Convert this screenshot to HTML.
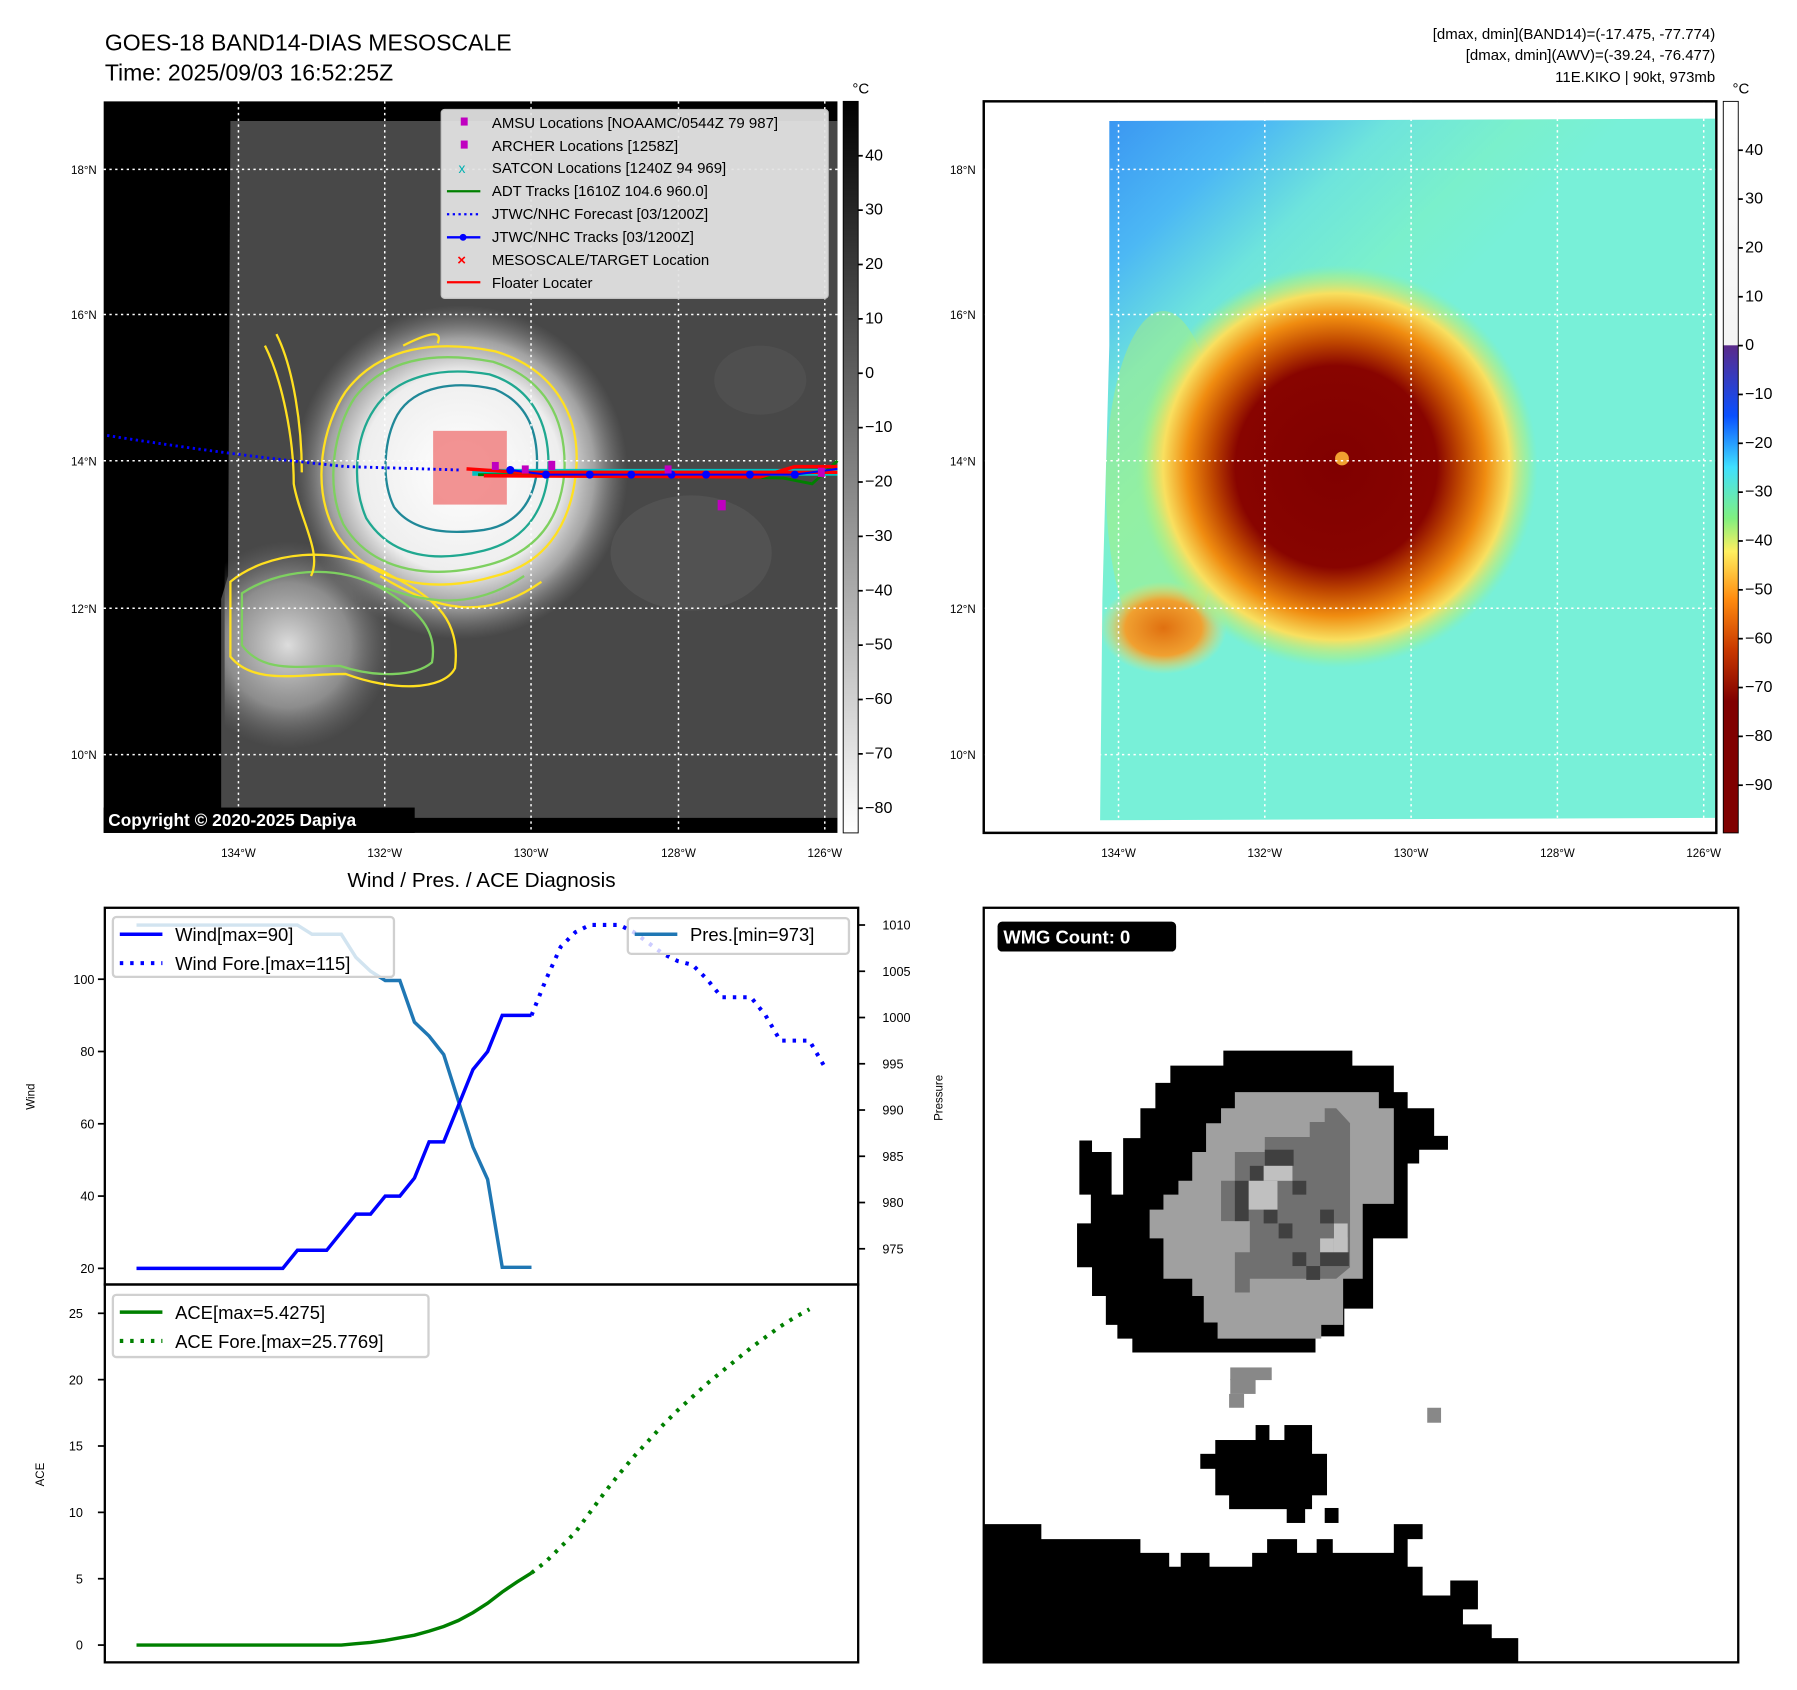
<!DOCTYPE html>
<html><head><meta charset="utf-8"><style>
html,body{margin:0;padding:0;background:#fff;}
svg{display:block;font-family:"Liberation Sans","DejaVu Sans",sans-serif;}
</style></head><body>
<svg id="fig" width="1797" height="1690" viewBox="0 0 1560 1467" preserveAspectRatio="none" xmlns="http://www.w3.org/2000/svg">
<defs>
<linearGradient id="cb1" x1="0" y1="0" x2="0" y2="1"><stop offset="0" stop-color="#000"/><stop offset="1" stop-color="#fff"/></linearGradient>
<linearGradient id="cb2" x1="0" y1="88" x2="0" y2="723" gradientUnits="userSpaceOnUse">
<stop offset="0" stop-color="#ffffff"/><stop offset="0.333" stop-color="#f4f4f4"/><stop offset="0.334" stop-color="#5a2a8a"/>
<stop offset="0.43" stop-color="#0a50ff"/><stop offset="0.5" stop-color="#40e0ff"/><stop offset="0.57" stop-color="#80f080"/>
<stop offset="0.615" stop-color="#fff060"/><stop offset="0.68" stop-color="#ff8c10"/><stop offset="0.75" stop-color="#c83800"/>
<stop offset="0.82" stop-color="#800000"/><stop offset="1" stop-color="#800000"/></linearGradient>
<radialGradient id="storm1" cx="400" cy="410" r="145" gradientUnits="userSpaceOnUse">
<stop offset="0" stop-color="#fff"/><stop offset="0.6" stop-color="#eee"/><stop offset="0.8" stop-color="#b8b8b8" stop-opacity="0.8"/><stop offset="1" stop-color="#888" stop-opacity="0"/></radialGradient>
<radialGradient id="blobL" cx="250" cy="560" r="90" gradientUnits="userSpaceOnUse">
<stop offset="0" stop-color="#ddd"/><stop offset="0.6" stop-color="#aaa" stop-opacity="0.7"/><stop offset="1" stop-color="#777" stop-opacity="0"/></radialGradient>
<linearGradient id="skyR" x1="960" y1="105" x2="1180" y2="330" gradientUnits="userSpaceOnUse">
<stop offset="0" stop-color="#3a96f2"/><stop offset="0.3" stop-color="#4cb8f4"/><stop offset="0.55" stop-color="#6ee4dc"/><stop offset="0.8" stop-color="#7af0cc"/><stop offset="1" stop-color="#78f0d8"/></linearGradient>
<radialGradient id="stormR" cx="1160" cy="405" r="175" gradientUnits="userSpaceOnUse">
<stop offset="0" stop-color="#800000"/><stop offset="0.5" stop-color="#880400"/><stop offset="0.62" stop-color="#c04800"/><stop offset="0.74" stop-color="#f08c10"/><stop offset="0.86" stop-color="#f8e060"/><stop offset="0.95" stop-color="#b0f080" stop-opacity="0.5"/><stop offset="1" stop-color="#90f0a0" stop-opacity="0"/></radialGradient>
<radialGradient id="bandR" cx="0.5" cy="0.5" r="0.5">
<stop offset="0" stop-color="#e07010"/><stop offset="0.6" stop-color="#f0a030"/><stop offset="1" stop-color="#f8e060" stop-opacity="0"/></radialGradient>
</defs>

<text x="91" y="44" font-size="20">GOES-18 BAND14-DIAS MESOSCALE</text>
<text x="91" y="70" font-size="20">Time: 2025/09/03 16:52:25Z</text>
<g font-size="13" text-anchor="end">
<text x="1489" y="34">[dmax, dmin](BAND14)=(-17.475, -77.774)</text>
<text x="1489" y="52">[dmax, dmin](AWV)=(-39.24, -76.477)</text>
<text x="1489" y="71">11E.KIKO | 90kt, 973mb</text>
</g>

<g>
<rect x="90" y="88" width="637" height="635" fill="#000"/>
<polygon points="200,105 727,105 727,710 192,710 192,520 198,500" fill="#484848"/>
<ellipse cx="600" cy="480" rx="70" ry="50" fill="#5c5c5c" opacity="0.5"/>
<ellipse cx="660" cy="330" rx="40" ry="30" fill="#555" opacity="0.5"/>
<rect x="195" y="260" width="320" height="450" fill="url(#blobL)"/>
<circle cx="400" cy="410" r="145" fill="url(#storm1)"/>
<g fill="none" stroke-width="2">
<path d="M300,340 C330,300 380,295 430,305 C480,320 505,360 500,410 C495,460 470,490 430,500 C380,515 320,510 290,460 C270,420 280,370 300,340Z" stroke="#ffe020"/>
<path d="M308,345 C335,310 380,305 428,314 C472,328 492,362 490,410 C486,455 462,480 425,490 C380,502 325,500 298,455 C282,420 290,372 308,345Z" stroke="#7ed060"/>
<path d="M325,355 C345,325 385,318 425,325 C460,336 478,365 476,410 C472,448 452,470 420,478 C380,488 340,485 318,450 C305,420 308,380 325,355Z" stroke="#20a890"/>
<path d="M345,360 C360,335 395,330 430,338 C458,350 468,375 466,410 C462,440 445,456 420,460 C390,464 358,462 342,440 C330,415 334,380 345,360Z" stroke="#208898"/>
<path d="M200,505 C230,480 290,470 340,500 C380,520 400,540 395,580 C385,600 340,600 300,585 C260,585 220,595 200,570Z" stroke="#ffe020"/>
<path d="M210,515 C240,495 290,488 330,510 C365,530 380,548 375,575 C360,588 325,588 295,578 C260,578 228,585 210,560Z" stroke="#7ed060"/>
<path d="M230,300 C245,330 255,380 255,420 C260,450 280,480 270,500 M240,290 C255,320 262,370 262,410" stroke="#ffe020"/>
<path d="M330,500 C380,530 420,540 470,505" stroke="#ffe020"/>
<path d="M320,505 C370,525 410,530 455,500" stroke="#7ed060"/>
<path d="M350,300 C370,290 385,285 380,298" stroke="#ffe020"/>
</g>
<g stroke="#fff" stroke-width="1.3" stroke-dasharray="2,3">
<line x1="207" y1="88" x2="207" y2="723"/><line x1="334" y1="88" x2="334" y2="723"/><line x1="461" y1="88" x2="461" y2="723"/><line x1="589" y1="88" x2="589" y2="723"/><line x1="716" y1="88" x2="716" y2="723"/>
<line x1="90" y1="147" x2="727" y2="147"/><line x1="90" y1="273" x2="727" y2="273"/><line x1="90" y1="400" x2="727" y2="400"/><line x1="90" y1="528" x2="727" y2="528"/><line x1="90" y1="655" x2="727" y2="655"/>
</g>
<rect x="376" y="374" width="64" height="64" fill="#f08080" opacity="0.85"/>
<path d="M93,378 Q200,395 300,405 L400,408" stroke="#0000ff" stroke-width="2.5" fill="none" stroke-dasharray="2,3"/>
<g>
<path d="M410,410 L727,410" stroke="#00c0c0" stroke-width="6"/>
<path d="M415,412 L600,413 L680,415 L705,420 L727,400" stroke="#008000" stroke-width="2.5" fill="none"/>
<path d="M405,407 L450,410 L727,410 M420,413 L660,414 L690,405 L727,405" stroke="#ff0000" stroke-width="3" fill="none"/>
<path d="M443,408 L474,412 L512,412 L548,412 L583,412 L613,412 L651,412 L690,412 L727,407" stroke="#0000ff" stroke-width="1.8" fill="none"/>
<g fill="#0000ff"><circle cx="443" cy="408" r="3.5"/><circle cx="474" cy="412" r="3.5"/><circle cx="512" cy="412" r="3.5"/><circle cx="548" cy="412" r="3.5"/><circle cx="583" cy="412" r="3.5"/><circle cx="613" cy="412" r="3.5"/><circle cx="651" cy="412" r="3.5"/><circle cx="690" cy="412" r="3.5"/></g>
<g fill="#c000c0"><rect x="427" y="401" width="6" height="7"/><rect x="453" y="404" width="6" height="7"/><rect x="476" y="400" width="6" height="8"/><rect x="577" y="404" width="6" height="7"/><rect x="623" y="434" width="7" height="9"/><rect x="710" y="406" width="6" height="8"/></g>
</g>
<rect x="90" y="701" width="270" height="22" fill="#000"/>
<text x="94" y="717" font-size="15" font-weight="bold" fill="#fff">Copyright © 2020-2025 Dapiya</text>
</g>
<g>
<rect x="383" y="95" width="336" height="164" rx="3" fill="#e4e4e4" opacity="0.93" stroke="#ccc"/>
<g font-size="13">
<rect x="400" y="102" width="6" height="7" fill="#c000c0"/><text x="427" y="111">AMSU Locations [NOAAMC/0544Z 79 987]</text>
<rect x="400" y="122" width="6" height="7" fill="#c000c0"/><text x="427" y="131">ARCHER Locations [1258Z]</text>
<text x="398" y="150" fill="#00b0b0" font-size="12">x</text><text x="427" y="150">SATCON Locations [1240Z 94 969]</text>
<line x1="388" y1="166" x2="417" y2="166" stroke="#008000" stroke-width="2"/><text x="427" y="170">ADT Tracks [1610Z 104.6 960.0]</text>
<line x1="388" y1="186" x2="417" y2="186" stroke="#0000ff" stroke-width="2" stroke-dasharray="2,3"/><text x="427" y="190">JTWC/NHC Forecast [03/1200Z]</text>
<line x1="388" y1="206" x2="417" y2="206" stroke="#0000ff" stroke-width="2"/><circle cx="402" cy="206" r="3" fill="#0000ff"/><text x="427" y="210">JTWC/NHC Tracks [03/1200Z]</text>
<text x="397" y="230" fill="#ff0000" font-weight="bold">×</text><text x="427" y="230">MESOSCALE/TARGET Location</text>
<line x1="388" y1="245" x2="417" y2="245" stroke="#ff0000" stroke-width="2"/><text x="427" y="250">Floater Locater</text>
</g></g>
<g>
<rect x="732" y="88" width="13" height="635" fill="url(#cb1)" stroke="#000" stroke-width="0.8"/>
<text x="740" y="81" font-size="13">°C</text>
<g font-size="14" id="cb1ticks"></g>
</g>
<g font-size="10" text-anchor="end">
<text x="84" y="151">18°N</text><text x="84" y="277">16°N</text><text x="84" y="404">14°N</text><text x="84" y="532">12°N</text><text x="84" y="659">10°N</text>
</g>
<g font-size="10" text-anchor="middle">
<text x="207" y="744">134°W</text><text x="334" y="744">132°W</text><text x="461" y="744">130°W</text><text x="589" y="744">128°W</text><text x="716" y="744">126°W</text>
</g>

<g>
<rect x="854" y="88" width="636" height="635" fill="#fff" stroke="#000" stroke-width="2"/>
<polygon points="963,105 1489,103 1489,710 955,712 957,520 963,300" fill="url(#skyR)"/>
<ellipse cx="1010" cy="420" rx="50" ry="150" fill="#b0f070" opacity="0.45"/>
<ellipse cx="1010" cy="545" rx="55" ry="40" fill="url(#bandR)"/>
<ellipse cx="1120" cy="500" rx="60" ry="30" fill="url(#bandR)"/>
<ellipse cx="1035" cy="400" rx="40" ry="70" fill="url(#bandR)" opacity="0.7"/>
<circle cx="1160" cy="405" r="175" fill="url(#stormR)"/>
<circle cx="1165" cy="398" r="6" fill="#f0a030"/>
<g stroke="#fff" stroke-width="1.3" stroke-dasharray="2,3">
<line x1="971" y1="88" x2="971" y2="723"/><line x1="1098" y1="88" x2="1098" y2="723"/><line x1="1225" y1="88" x2="1225" y2="723"/><line x1="1352" y1="88" x2="1352" y2="723"/><line x1="1479" y1="88" x2="1479" y2="723"/>
<line x1="854" y1="147" x2="1490" y2="147"/><line x1="854" y1="273" x2="1490" y2="273"/><line x1="854" y1="400" x2="1490" y2="400"/><line x1="854" y1="528" x2="1490" y2="528"/><line x1="854" y1="655" x2="1490" y2="655"/>
</g>
<rect x="854" y="88" width="636" height="635" fill="none" stroke="#000" stroke-width="2"/>
</g>
<g font-size="10" text-anchor="end">
<text x="847" y="151">18°N</text><text x="847" y="277">16°N</text><text x="847" y="404">14°N</text><text x="847" y="532">12°N</text><text x="847" y="659">10°N</text>
</g>
<g font-size="10" text-anchor="middle">
<text x="971" y="744">134°W</text><text x="1098" y="744">132°W</text><text x="1225" y="744">130°W</text><text x="1352" y="744">128°W</text><text x="1479" y="744">126°W</text>
</g>
<g>
<rect x="1496" y="88" width="13" height="635" fill="url(#cb2)" stroke="#000" stroke-width="0.8"/>
<text x="1504" y="81" font-size="13">°C</text>
<g font-size="14" id="cb2ticks"></g>
</g>

<text x="418" y="770" font-size="18" text-anchor="middle">Wind / Pres. / ACE Diagnosis</text>
<rect x="91" y="788" width="654" height="327" fill="none" stroke="#000" stroke-width="2"/>
<rect x="91" y="1115" width="654" height="328" fill="none" stroke="#000" stroke-width="2"/>
<g id="plots"></g>
<text transform="translate(30,952) rotate(-90)" font-size="10" text-anchor="middle">Wind</text>
<text transform="translate(818,953) rotate(-90)" font-size="10" text-anchor="middle">Pressure</text>
<text transform="translate(38,1280) rotate(-90)" font-size="10" text-anchor="middle">ACE</text>
<g>
<rect x="98" y="796" width="244" height="52" rx="3" fill="#fff" fill-opacity="0.8" stroke="#d0d0d0" stroke-width="2"/>
<line x1="104" y1="811" x2="141" y2="811" stroke="#0000ff" stroke-width="3"/><text x="152" y="817" font-size="16">Wind[max=90]</text>
<line x1="104" y1="836" x2="141" y2="836" stroke="#0000ff" stroke-width="3.5" stroke-dasharray="3,6"/><text x="152" y="842" font-size="16">Wind Fore.[max=115]</text>
</g>
<g>
<rect x="545" y="797" width="192" height="31" rx="3" fill="#fff" fill-opacity="0.8" stroke="#d0d0d0" stroke-width="2"/>
<line x1="551" y1="811" x2="588" y2="811" stroke="#1f77b4" stroke-width="3"/><text x="599" y="817" font-size="16">Pres.[min=973]</text>
</g>
<g>
<rect x="98" y="1124" width="274" height="54" rx="3" fill="#fff" fill-opacity="0.8" stroke="#d0d0d0" stroke-width="2"/>
<line x1="104" y1="1139" x2="141" y2="1139" stroke="#008000" stroke-width="3"/><text x="152" y="1145" font-size="16">ACE[max=5.4275]</text>
<line x1="104" y1="1164" x2="141" y2="1164" stroke="#008000" stroke-width="3.5" stroke-dasharray="3,6"/><text x="152" y="1170" font-size="16">ACE Fore.[max=25.7769]</text>
</g>

<g>
<rect x="854" y="788" width="655" height="655" fill="#fff"/>
<polygon fill="#000" points="1088,912 1174,912 1174,925 1210,925 1210,948 1222,948 1222,962 1245,962 1245,986 1257,986 1257,998 1232,998 1232,1010 1222,1010 1222,1075 1192,1075 1192,1136 1167,1136 1167,1160 1142,1160 1142,1174 983,1174 983,1162 970,1162 970,1150 960,1150 960,1125 948,1125 948,1100 935,1100 935,1062 947,1062 947,1037 937,1037 937,990 948,990 948,1000 965,1000 965,1037 975,1037 975,988 990,988 990,962 1003,962 1003,940 1016,940 1016,925 1062,925 1062,912"/>
<polygon fill="#a0a0a0" points="1072,948 1197,948 1197,962 1210,962 1210,1045 1183,1045 1183,1110 1166,1110 1166,1150 1147,1150 1147,1162 1057,1162 1057,1148 1045,1148 1045,1125 1035,1125 1035,1110 1010,1110 1010,1075 998,1075 998,1050 1010,1050 1010,1037 1023,1037 1023,1025 1035,1025 1035,1000 1047,1000 1047,975 1060,975 1060,962 1072,962"/>
<polygon fill="#707070" points="1098,987 1137,987 1137,974 1150,974 1150,962 1160,962 1172,975 1172,1100 1160,1110 1085,1110 1085,1122 1072,1122 1072,1087 1085,1087 1085,1060 1060,1060 1060,1025 1072,1025 1072,1000 1098,1000"/>
<g fill="#404040"><rect x="1098" y="998" width="25" height="14"/><rect x="1085" y="1012" width="12" height="13"/><rect x="1072" y="1025" width="12" height="35"/><rect x="1122" y="1025" width="12" height="12"/><rect x="1097" y="1050" width="12" height="12"/><rect x="1110" y="1062" width="12" height="13"/><rect x="1146" y="1050" width="12" height="12"/><rect x="1158" y="1062" width="12" height="12"/><rect x="1146" y="1087" width="25" height="12"/><rect x="1122" y="1087" width="12" height="12"/><rect x="1134" y="1099" width="12" height="12"/></g>
<g fill="#c0c0c0"><rect x="1097" y="1012" width="25" height="13"/><rect x="1084" y="1025" width="25" height="25"/><rect x="1158" y="1062" width="12" height="25"/><rect x="1146" y="1075" width="12" height="12"/></g>
<g fill="#888"><rect x="1068" y="1187" width="36" height="11"/><rect x="1068" y="1197" width="22" height="13"/><rect x="1067" y="1210" width="13" height="12"/><rect x="1239" y="1222" width="12" height="13"/></g>
<g fill="#000"><rect x="1090" y="1237" width="12" height="14"/><rect x="1115" y="1237" width="24" height="14"/><rect x="1055" y="1250" width="84" height="13"/><rect x="1042" y="1262" width="110" height="13"/><rect x="1055" y="1274" width="97" height="24"/><rect x="1067" y="1297" width="72" height="13"/><rect x="1117" y="1309" width="16" height="13"/><rect x="1150" y="1309" width="12" height="13"/></g>
<polygon fill="#000" points="854,1323 904,1323 904,1336 990,1336 990,1348 1015,1348 1015,1360 1025,1360 1025,1348 1050,1348 1050,1360 1087,1360 1087,1348 1100,1348 1100,1336 1126,1336 1126,1348 1143,1348 1143,1336 1157,1336 1157,1348 1210,1348 1210,1323 1235,1323 1235,1336 1222,1336 1222,1360 1235,1360 1235,1385 1259,1385 1259,1372 1283,1372 1283,1397 1270,1397 1270,1410 1295,1410 1295,1422 1318,1422 1318,1443 854,1443"/>
<rect x="854" y="788" width="655" height="655" fill="none" stroke="#000" stroke-width="2"/>
<rect x="866" y="800" width="155" height="26" rx="4" fill="#000"/>
<text x="871" y="819" font-size="16" font-weight="bold" fill="#fff">WMG Count: 0</text>
</g>

<script>
const windObs = [20,20,20,20,20,20,20,20,20,20,20,25,25,25,30,35,35,40,40,45,55,55,65,75,80,90,90,90];
const windFore = [90,100,109,113,115,115,115,113,110,107,105,104,100,95,95,95,90,83,83,83,76];
const presObs = [1010,1010,1010,1010,1010,1010,1010,1010,1010,1010,1010,1010,1009,1009,1009,1006.5,1005,1004,1004,999.5,998,996,991,986,982.5,973,973,973];
const aceObs = [0,0,0,0,0,0,0,0,0,0,0,0,0,0,0,0.1,0.2,0.35,0.55,0.75,1.05,1.4,1.85,2.45,3.15,4.0,4.75,5.43];
const aceFore = [5.43,6.3,7.4,8.5,10.0,11.5,12.9,14.2,15.4,16.6,17.7,18.7,19.7,20.6,21.5,22.4,23.2,24.0,24.7,25.3];
const windTicks = [20,40,60,80,100];
const presTicks = [975,980,985,990,995,1000,1005,1010];
const aceTicks = [0,5,10,15,20,25];
const cb1Ticks = [40,30,20,10,0,-10,-20,-30,-40,-50,-60,-70,-80];
const cb2Ticks = [40,30,20,10,0,-10,-20,-30,-40,-50,-60,-70,-80,-90];

const NS = "http://www.w3.org/2000/svg";
const xS = i => 118.5 + i*12.7;
const yWind = v => 1101 - (v-20)*3.1375;
const yPres = v => 1084 - (v-975)*8.03;
const yAce = v => 1428 - v*11.52;
const yCb1 = v => 324 - v*4.72;
const yCb2 = v => 300 - v*4.24;

const plots = document.getElementById('plots');
function mk(tag, attrs, parent){const e=document.createElementNS(NS,tag);for(const k in attrs)e.setAttribute(k,attrs[k]);(parent||plots).appendChild(e);return e;}
function poly(vals, off, yf, color, w, dash, name){
  const pts = vals.map((v,i)=>xS(i+off).toFixed(1)+','+yf(v).toFixed(1)).join(' ');
  const p = mk('polyline',{points:pts,fill:'none',stroke:color,'stroke-width':w});
  if(dash) p.setAttribute('stroke-dasharray',dash);
  
  
}
poly(presObs,0,yPres,'#1f77b4',3,null,'pressure-line');
poly(windObs,0,yWind,'#0000ff',3,null,'wind-line');
poly(windFore,27,yWind,'#0000ff',3.5,'3,6','wind-forecast-line');
poly(aceObs,0,yAce,'#008000',3,null,'ace-line');
poly(aceFore,27,yAce,'#008000',3.5,'3,6','ace-forecast-line');

function ticks(arr, yf, x1, x2, tx, anchor, parent, fs, name){
  arr.forEach(v=>{
    mk('line',{x1:x1,x2:x2,y1:yf(v),y2:yf(v),stroke:'#000','stroke-width':1.5},parent);
    const t = mk('text',{x:tx,y:yf(v)+4,'font-size':fs,'text-anchor':anchor},parent);
    t.textContent = (v<0?'\u2212'+(-v):v);
    
    
  });
}
ticks(windTicks,yWind,85,91,82,'end',plots,11,'wind-tick');
ticks(presTicks,yPres,745,751,766,'start',plots,11,'pressure-tick');
ticks(aceTicks,yAce,85,91,72,'end',plots,11,'ace-tick');
ticks(cb1Ticks,yCb1,745,749,751,'start',document.getElementById('cb1ticks'),14,'colorbar-gray-tick');
ticks(cb2Ticks,yCb2,1509,1513,1515,'start',document.getElementById('cb2ticks'),14,'colorbar-awv-tick');
</script>
</svg>
</body></html>
